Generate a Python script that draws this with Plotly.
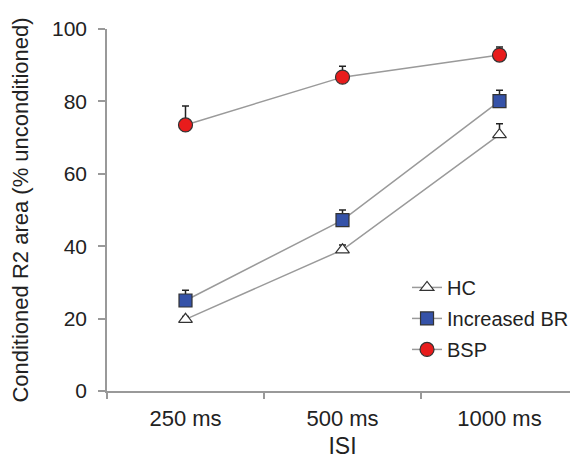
import plotly.graph_objects as go

categories = ["250 ms", "500 ms", "1000 ms"]
hc = [19.8, 39.0, 70.8]
hc_err = [0.8, 1.3, 3.0]
br = [25.0, 47.2, 80.1]
br_err = [2.8, 2.8, 3.0]
bsp = [73.5, 86.7, 92.8]
bsp_err = [5.2, 3.0, 2.2]

fig = go.Figure()

def add(name, vals, errs, symbol, fill, size, group):
    fig.add_trace(go.Scatter(
        x=[0, 1, 2], y=vals, name=name, mode="lines+markers", legendgroup=group,
        line=dict(color="#9a9a9a", width=1.5),
        marker=dict(symbol=symbol, size=size, color=fill, line=dict(color="#333333", width=1.2)),
        error_y=dict(type="data", symmetric=False, array=errs, arrayminus=[0]*len(errs),
                     color="#222222", thickness=1.5, width=3.5),
    ))

add("HC", hc, hc_err, "triangle-up", "white", 12, "a")
add("Increased BR", br, br_err, "square", "#3552a8", 13, "b")
add("BSP", bsp, bsp_err, "circle", "#e81c1c", 14, "c")

fig.update_layout(
    width=578, height=459,
    margin=dict(l=99, r=8, t=21, b=76, autoexpand=False),
    paper_bgcolor="white", plot_bgcolor="white",
    font=dict(family="Liberation Sans, Arial, sans-serif", color="#222222", size=21),
    showlegend=True,
    legend=dict(x=0.637, y=0.34, xanchor="left", yanchor="top",
                font=dict(size=20), bgcolor="rgba(0,0,0,0)", tracegroupgap=2,
                itemsizing="trace"),
)
fig.update_xaxes(
    range=[-0.5, 2.5], tickmode="array", tickvals=[0, 1, 2], ticktext=categories,
    showgrid=False, zeroline=False, showline=True, linecolor="#999999", linewidth=1.5,
    ticks="", ticklabelstandoff=7, automargin=False,
    title=dict(text="ISI", font=dict(size=23), standoff=8),
    tickfont=dict(size=22),
)
fig.update_xaxes(minor=dict(tickmode="array", tickvals=[-0.5, 0.5, 1.5], ticks="outside",
                            ticklen=6, tickcolor="#999999", tickwidth=1.5))
fig.update_yaxes(
    range=[0, 100], tickvals=[0, 20, 40, 60, 80, 100],
    showgrid=False, zeroline=False, showline=True, linecolor="#999999", linewidth=1.5,
    ticks="outside", ticklen=7, tickcolor="#999999", tickwidth=1.5, ticklabelstandoff=7,
    automargin=False,
    title=dict(text="Conditioned R2 area (% unconditioned)", font=dict(size=22), standoff=24),
    tickfont=dict(size=21),
)

fig.write_html("out.html")
